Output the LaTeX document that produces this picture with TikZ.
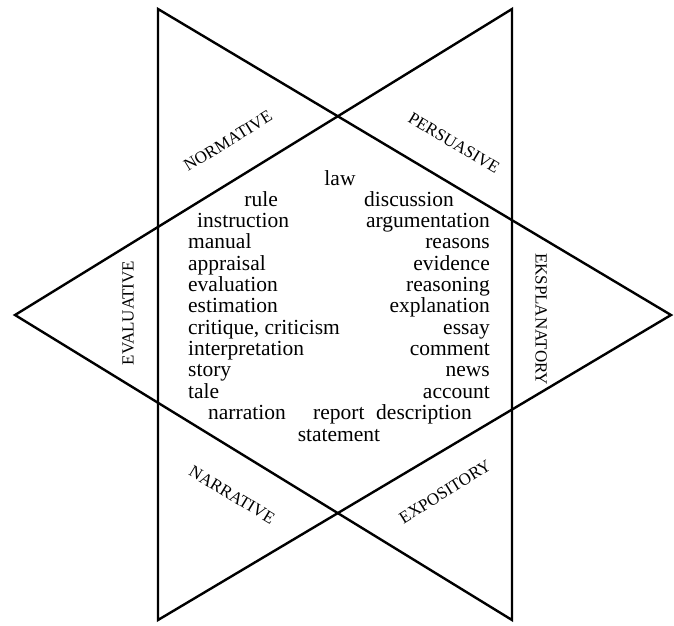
\documentclass[tikz,border=0pt]{standalone}
\usepackage{fontspec}
\setmainfont{Liberation Serif}
\begin{document}
\begin{tikzpicture}[x=1pt,y=-1pt,
  tri/.style={draw=black,line width=2.4pt,line join=miter},
  word/.style={inner sep=0pt,text height=13pt,text depth=4pt,
    font=\fontsize{21.5}{24}\selectfont},
  genre/.style={inner sep=0pt,text height=11pt,text depth=0pt,
    font=\fontsize{17}{19}\selectfont}]
\useasboundingbox (0,0) rectangle (674,625);

% the two interlaced triangles
\draw[tri] (158,9) -- (158,620) -- (671,315) -- cycle;
\draw[tri] (512,9) -- (512,620) -- (15,315) -- cycle;

% genre names along the star's edges
\node[genre,rotate=31.5]  (normative)   at (228,141) {NORMATIVE};
\node[genre,rotate=-31]   (persuasive)  at (454,143) {PERSUASIVE};
\node[genre,rotate=90]    (evaluative)  at (128,313) {EVALUATIVE};
\node[genre,rotate=-90]   (explanatory) at (541,319) {EKSPLANATORY};
\node[genre,rotate=-31]   (narrative)   at (232,495) {NARRATIVE};
\node[genre,rotate=32]    (expository)  at (445,492) {EXPOSITORY};

% text types inside the star
\node[word] (law) at (340,181) {law};
\node[word,anchor=east] (rule) at (278,202) {rule};
\node[word,anchor=west] (instruction) at (197,223) {instruction};
\node[word,anchor=west] (manual) at (188,244) {manual};
\node[word,anchor=west] (appraisal) at (188,266) {appraisal};
\node[word,anchor=west] (evaluation) at (188,287) {evaluation};
\node[word,anchor=west] (estimation) at (188,308) {estimation};
\node[word,anchor=west] (critique) at (188,330) {critique, criticism};
\node[word,anchor=west] (interpretation) at (188,351) {interpretation};
\node[word,anchor=west] (story) at (188,372) {story};
\node[word,anchor=west] (tale) at (188,394) {tale};
\node[word,anchor=west] (narration) at (208,415) {narration};

\node[word,anchor=west] (discussion) at (364,202) {discussion};
\node[word,anchor=east] (argumentation) at (490,223) {argumentation};
\node[word,anchor=east] (reasons) at (490,244) {reasons};
\node[word,anchor=east] (evidence) at (490,266) {evidence};
\node[word,anchor=east] (reasoning) at (490,287) {reasoning};
\node[word,anchor=east] (explanation) at (490,308) {explanation};
\node[word,anchor=east] (essay) at (490,330) {essay};
\node[word,anchor=east] (comment) at (490,351) {comment};
\node[word,anchor=east] (news) at (490,372) {news};
\node[word,anchor=east] (account) at (490,394) {account};
\node[word,anchor=west] (report) at (313,415) {report};
\node[word,anchor=west] (description) at (376,415) {description};
\node[word] (statement) at (339,437) {statement};
\end{tikzpicture}
\end{document}
